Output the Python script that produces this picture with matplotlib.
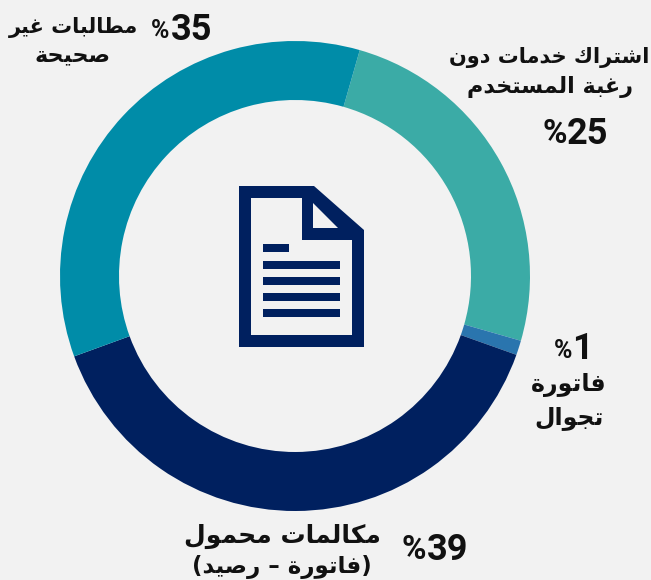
# -*- coding: utf-8 -*-
import matplotlib
matplotlib.use("Agg")
import matplotlib.pyplot as plt
from matplotlib.patches import Polygon, Rectangle

# datos del anillo, en el orden de las agujas del reloj
valores = [25, 1, 39, 35]
colores = ["#3BABA6", "#2A75AE", "#00205F", "#008CA8"]

etiquetas = [
    ["اشتراك خدمات دون", "رغبة المستخدم"],
    ["فاتورة", "تجوال"],
    ["مكالمات محمول", "(فاتورة – رصيد)"],
    ["مطالبات غير", "صحيحة"],
]

# formas de cada letra: aislada, final, inicial, media
formas = {
    "ا": (0xFE8D, 0xFE8E), "ب": (0xFE8F, 0xFE90, 0xFE91, 0xFE92),
    "ة": (0xFE93, 0xFE94), "ت": (0xFE95, 0xFE96, 0xFE97, 0xFE98),
    "ج": (0xFE9D, 0xFE9E, 0xFE9F, 0xFEA0), "ح": (0xFEA1, 0xFEA2, 0xFEA3, 0xFEA4),
    "خ": (0xFEA5, 0xFEA6, 0xFEA7, 0xFEA8), "د": (0xFEA9, 0xFEAA),
    "ر": (0xFEAD, 0xFEAE), "س": (0xFEB1, 0xFEB2, 0xFEB3, 0xFEB4),
    "ش": (0xFEB5, 0xFEB6, 0xFEB7, 0xFEB8), "ص": (0xFEB9, 0xFEBA, 0xFEBB, 0xFEBC),
    "ط": (0xFEC1, 0xFEC2, 0xFEC3, 0xFEC4), "غ": (0xFECD, 0xFECE, 0xFECF, 0xFED0),
    "ف": (0xFED1, 0xFED2, 0xFED3, 0xFED4), "ك": (0xFED9, 0xFEDA, 0xFEDB, 0xFEDC),
    "ل": (0xFEDD, 0xFEDE, 0xFEDF, 0xFEE0), "م": (0xFEE1, 0xFEE2, 0xFEE3, 0xFEE4),
    "ن": (0xFEE5, 0xFEE6, 0xFEE7, 0xFEE8), "و": (0xFEED, 0xFEEE),
    "ي": (0xFEF1, 0xFEF2, 0xFEF3, 0xFEF4),
}


def arabe(texto):
    # matplotlib no une las letras ni invierte el texto, lo hago aquí
    salida = []
    for i, c in enumerate(texto):
        if c not in formas:
            salida.append({"(": ")", ")": "("}.get(c, c))
            continue
        antes = i > 0 and texto[i - 1] in formas and len(formas[texto[i - 1]]) == 4
        despues = i + 1 < len(texto) and texto[i + 1] in formas
        f = formas[c]
        if len(f) == 2:
            salida.append(chr(f[1] if antes else f[0]))
        elif antes and despues:
            salida.append(chr(f[3]))
        elif antes:
            salida.append(chr(f[1]))
        elif despues:
            salida.append(chr(f[2]))
        else:
            salida.append(chr(f[0]))
    return "".join(reversed(salida))


fig = plt.figure(figsize=(6.51, 5.80), dpi=100, facecolor="#F2F2F2")
ax = fig.add_axes([0, 0, 1, 1])

# anillo
ax.pie(valores, colors=colores, startangle=74, counterclock=False,
       center=(295, 580 - 276), radius=235, frame=True,
       wedgeprops=dict(width=59, linewidth=0))
ax.set_xlim(0, 651)
ax.set_ylim(0, 580)
ax.axis("off")

azul = "#00205F"
fondo = "#F2F2F2"


def px(puntos):
    return [(x, 580 - y) for x, y in puntos]


# icono del documento
ax.add_patch(Polygon(px([(239, 186), (314, 186), (364, 230), (364, 347), (239, 347)]), color=azul, lw=0))
ax.add_patch(Polygon(px([(251, 198), (302, 198), (302, 240), (352, 240), (352, 335), (251, 335)]), color=fondo, lw=0))
ax.add_patch(Polygon(px([(313, 203), (338, 228), (313, 228)]), color=fondo, lw=0))
ax.add_patch(Rectangle((263, 580 - 252), 26, 8, color=azul, lw=0))
for y in [269, 285, 301, 317]:
    ax.add_patch(Rectangle((263, 580 - y), 77, 8, color=azul, lw=0))


def arabe_txt(x, y, texto, size=14):
    ax.text(x, 580 - y, arabe(texto), family="DejaVu Sans", weight="bold",
            fontsize=size, ha="center", va="center", color="#111111")


def num(x, y, texto, size=26):
    ax.text(x, 580 - y, texto, family="Roboto", weight="bold",
            fontsize=size, ha="center", va="center", color="#111111")


# etiquetas
arabe_txt(549, 57, etiquetas[0][0], 15)
arabe_txt(550, 87, etiquetas[0][1], 16)
num(555, 134, "%", 24)
num(588, 134, str(valores[0]))

num(563, 351, "%", 18)
num(582, 349, str(valores[1]))
arabe_txt(569, 385, etiquetas[1][0], 17)
arabe_txt(569, 418, etiquetas[1][1], 17)

arabe_txt(282, 536, etiquetas[2][0], 18)
arabe_txt(282, 567, etiquetas[2][1], 16.5)
num(414, 550, "%", 24)
num(448, 550, str(valores[2]))

arabe_txt(73, 28, etiquetas[3][0], 15)
arabe_txt(73, 55, etiquetas[3][1], 16)
num(160, 31, "%", 18)
num(192, 30, str(valores[3]))

fig.savefig("out.png", dpi=100, facecolor=fig.get_facecolor())
